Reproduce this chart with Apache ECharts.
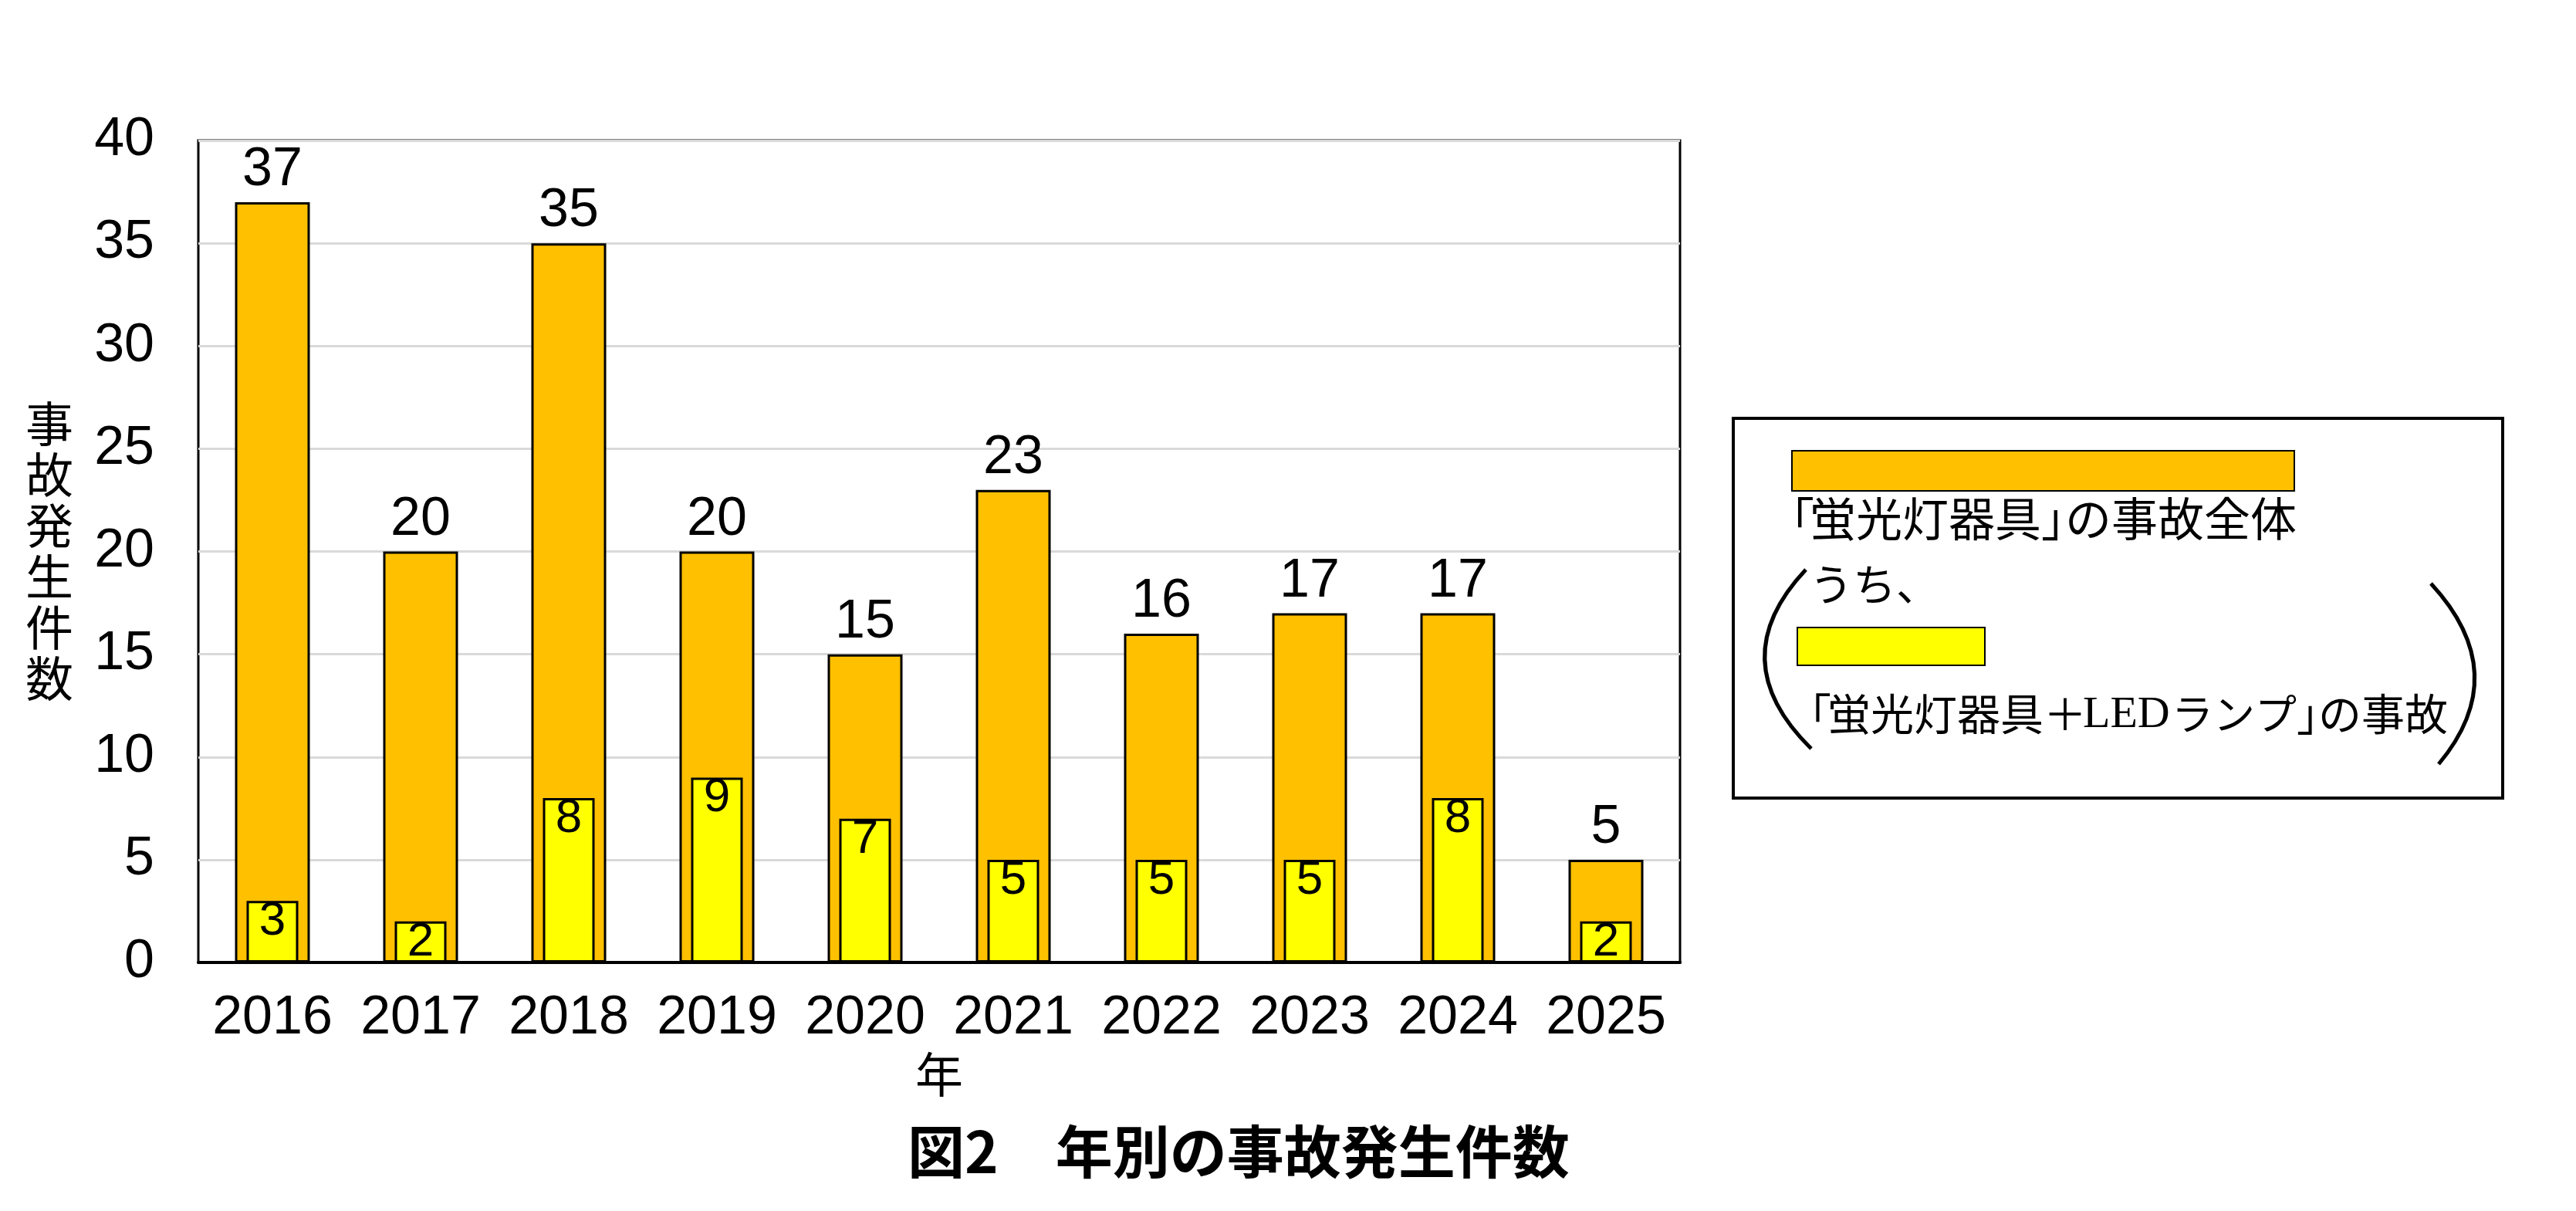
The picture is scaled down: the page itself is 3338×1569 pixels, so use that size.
<!DOCTYPE html>
<html><head><meta charset="utf-8">
<script src="https://cdn.jsdelivr.net/npm/echarts@6/dist/echarts.min.js"></script>
<style>html,body{margin:0;padding:0;background:#fff}#c{width:3338px;height:1569px}</style>
</head><body><div id="c"></div>
<script>
// ---- data ----
const years = ['2016','2017','2018','2019','2020','2021','2022','2023','2024','2025'];
const totalAccidents = [37, 20, 35, 20, 15, 23, 16, 17, 17, 5];
const ledLampAccidents = [3, 2, 8, 9, 7, 5, 5, 5, 8, 2];
const yMin = 0, yMax = 40, yInterval = 5;
const totalName = '「蛍光灯器具」の事故全体';
const ledName = '「蛍光灯器具＋LEDランプ」の事故';
const yAxisName = '事故発生件数';
const xAxisName = '年';
const chartTitle = '図2　年別の事故発生件数';

// ---- styles ----
const NUM = "'Liberation Sans Narrow','Arial Narrow','Liberation Sans',sans-serif";
const JP = "'Noto Sans CJK JP','Noto Sans',sans-serif";
const ORANGE = '#FFC000', YELLOW = '#FFFF00';

const chart = echarts.init(document.getElementById('c'), null, {renderer: 'canvas'});

const jpText = (text, x, y, size, extra) => Object.assign({
  type: 'text', x: x, y: y,
  style: {text: text, fontFamily: JP, fontSize: size, fill: '#000', textVerticalAlign: 'middle', textAlign: 'left'}
}, extra || {});

chart.setOption({
  animation: false,
  backgroundColor: '#fff',
  title: {
    text: chartTitle, left: 1176, top: 1455, padding: 0,
    textStyle: {fontFamily: JP, fontWeight: 'bold', fontSize: 74, lineHeight: 74, color: '#000'}
  },
  grid: {left: 257, right: 1161, top: 182, bottom: 322, show: true, borderColor: '#000', borderWidth: 3, backgroundColor: 'transparent'},
  legend: [
    {data: [totalName], left: 2321, top: 583, padding: 0, itemWidth: 651, itemHeight: 52, icon: 'rect',
     selectedMode: false, formatter: () => '', itemStyle: {borderWidth: 2, borderColor: '#000'}},
    {data: [ledName], left: 2328, top: 812, padding: 0, itemWidth: 243, itemHeight: 49, icon: 'rect',
     selectedMode: false, formatter: () => '', itemStyle: {borderWidth: 2, borderColor: '#000'}}
  ],
  xAxis: [
    {type: 'category', data: years, name: xAxisName, nameLocation: 'middle', nameGap: 114,
     nameTextStyle: {fontFamily: JP, fontSize: 62, color: '#000'},
     axisLine: {lineStyle: {color: '#000', width: 4}}, axisTick: {show: false},
     axisLabel: {interval: 0, hideOverlap: false, fontFamily: NUM, fontSize: 70, color: '#000', margin: 38}},
    {type: 'category', data: years, show: false}
  ],
  yAxis: {
    type: 'value', min: yMin, max: yMax, interval: yInterval,
    name: yAxisName.split('').join('\n'), nameLocation: 'middle', nameRotate: 0, nameGap: 162,
    nameTextStyle: {fontFamily: JP, fontSize: 62, lineHeight: 66, color: '#000'},
    axisLine: {show: false}, axisTick: {show: false},
    axisLabel: {fontFamily: NUM, fontSize: 70, color: '#000', margin: 57},
    splitLine: {lineStyle: {color: '#d9d9d9', width: 3}}
  },
  series: [
    {name: totalName, type: 'bar', xAxisIndex: 0, data: totalAccidents, barWidth: 97, z: 2,
     itemStyle: {color: ORANGE, borderColor: '#000', borderWidth: 3},
     label: {show: true, position: 'top', distance: 6, fontFamily: NUM, fontSize: 70, color: '#000'}},
    {name: ledName, type: 'bar', xAxisIndex: 1, data: ledLampAccidents, barWidth: 67, z: 3,
     itemStyle: {color: YELLOW, borderColor: '#000', borderWidth: 3},
     label: {show: true, position: 'insideTop', distance: -4, fontFamily: NUM, fontSize: 62, lineHeight: 62, color: '#000'}}
  ],
  graphic: [
    {type: 'rect', shape: {x: 2246, y: 542, width: 997, height: 492}, style: {fill: null, stroke: '#000', lineWidth: 4}, z: 1},
    // brackets around the sub-item
    {type: 'bezierCurve', shape: {x1: 2340, y1: 738, cpx1: 2230, cpy1: 855, x2: 2347, y2: 970}, style: {fill: null, stroke: '#000', lineWidth: 5}},
    {type: 'bezierCurve', shape: {x1: 3150, y1: 756, cpx1: 3258, cpy1: 873, x2: 3160, y2: 990}, style: {fill: null, stroke: '#000', lineWidth: 5}},
    // line 1
    jpText('「', 2291, 672, 60),
    jpText('蛍光灯器具', 2345, 672, 60),
    jpText('」', 2645, 672, 60),
    jpText('の事故全体', 2676, 672, 60),
    // うち、
    jpText('うち、', 2345, 757, 56),
    // line 2
    jpText('「', 2317, 925, 56),
    jpText('蛍光灯器具＋', 2368, 925, 56),
    {type: 'text', x: 2699, y: 927, style: {text: 'LED', fontFamily: "'Liberation Serif',serif", fontSize: 58, fill: '#000', textVerticalAlign: 'middle', textAlign: 'left'}},
    jpText('ランプ', 2814, 925, 54),
    jpText('」', 2976, 925, 56),
    jpText('の事故', 3004, 925, 56)
  ]
});
</script>
</body></html>
